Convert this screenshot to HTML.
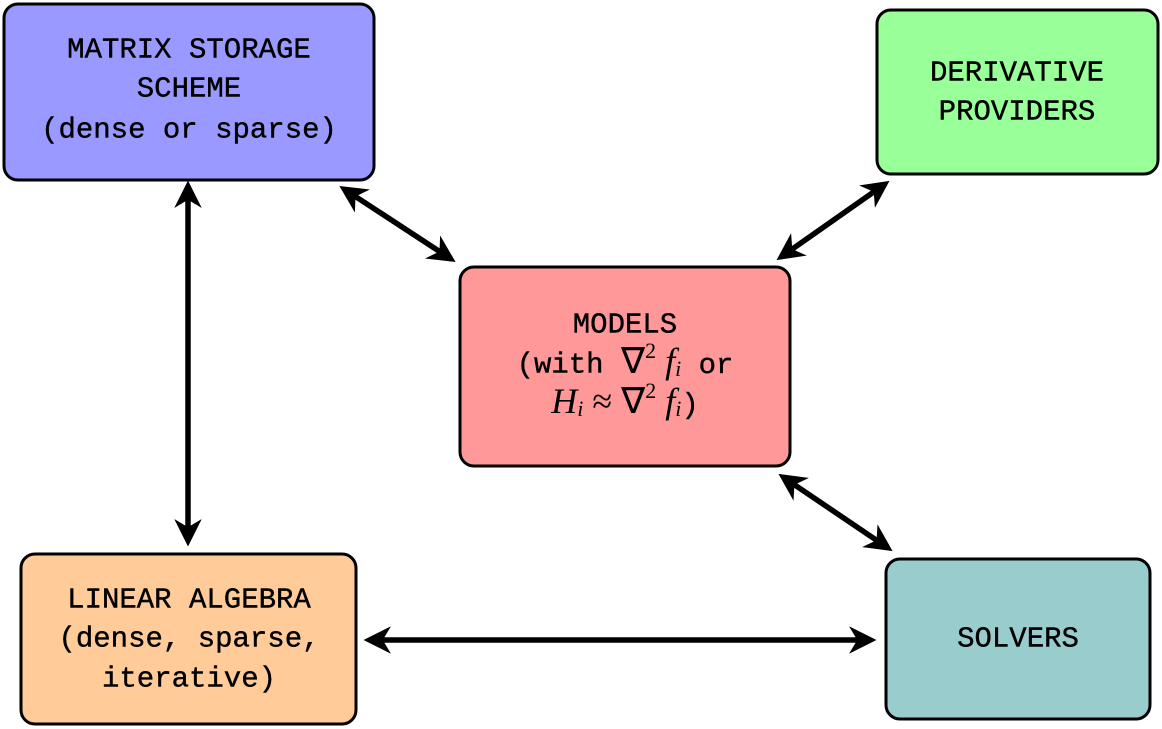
<!DOCTYPE html>
<html><head><meta charset="utf-8"><style>
html,body{margin:0;padding:0;background:#fff;}
svg{display:block}
text{font-family:"Liberation Mono",monospace;font-size:29px;fill:#000;text-anchor:middle;dominant-baseline:middle;stroke:#000;stroke-width:0.4}
.m{font-family:"Liberation Serif",serif;font-style:italic;stroke-width:0}
.r{font-family:"Liberation Serif",serif;font-style:normal;stroke-width:0}
</style></head><body>
<svg width="1162" height="729" viewBox="0 0 1162 729" xmlns="http://www.w3.org/2000/svg">
<defs>
<marker id="a" viewBox="0 0 10 10" refX="8" refY="5" markerWidth="5" markerHeight="5" orient="auto-start-reverse" markerUnits="strokeWidth">
<path d="M0,0 L10,5 L0,10 L3,5 Z" fill="#000"/>
</marker>
</defs>
<g stroke="#000" stroke-width="3">
<rect x="4" y="4" width="370" height="176" rx="14" fill="#9999ff"/>
<rect x="877" y="10" width="281" height="164" rx="14" fill="#99ff99"/>
<rect x="460" y="267" width="330" height="199" rx="14" fill="#ff9999"/>
<rect x="21" y="554" width="335" height="170" rx="14" fill="#ffcc99"/>
<rect x="886" y="559" width="264" height="160" rx="14" fill="#99cccc"/>
</g>
<g stroke="#000" stroke-width="5.5" fill="none" marker-start="url(#a)" marker-end="url(#a)">
<line x1="188" y1="186" x2="188" y2="541"/>
<line x1="344" y1="189" x2="451" y2="259"/>
<line x1="885" y1="184" x2="781" y2="257"/>
<line x1="783" y1="477" x2="888" y2="548"/>
<line x1="369" y1="640" x2="871" y2="640"/>
</g>
<text x="189" y="50">MATRIX STORAGE</text>
<text x="189" y="89">SCHEME</text>
<text x="189" y="130">(dense or sparse)</text>
<text x="1017" y="73">DERIVATIVE</text>
<text x="1017" y="112">PROVIDERS</text>
<text x="625" y="325">MODELS</text>
<text x="625" y="365">(with <tspan class="r" font-size="36">∇</tspan><tspan class="r" font-size="22" dy="-12">2</tspan><tspan class="m" font-size="36" dy="12"> f</tspan><tspan class="m" font-size="22" dy="6">i</tspan><tspan dy="-6"> or</tspan></text>
<text x="625" y="405"><tspan class="m" font-size="36">H</tspan><tspan class="m" font-size="22" dy="6">i</tspan><tspan class="r" font-size="36" dy="-6"> ≈ ∇</tspan><tspan class="r" font-size="22" dy="-12">2</tspan><tspan class="m" font-size="36" dy="12"> f</tspan><tspan class="m" font-size="22" dy="6">i</tspan><tspan dy="-6">)</tspan></text>
<text x="189" y="600">LINEAR ALGEBRA</text>
<text x="189" y="639">(dense, sparse,</text>
<text x="189" y="679">iterative)</text>
<text x="1018" y="639">SOLVERS</text>
</svg>
</body></html>
